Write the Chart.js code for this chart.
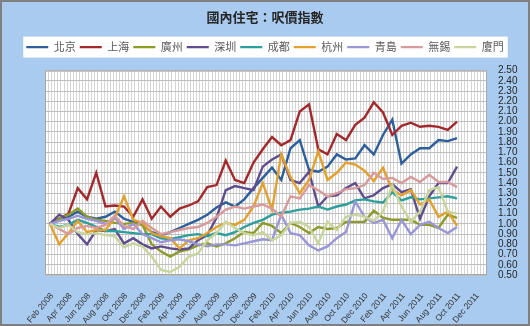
<!DOCTYPE html>
<html><head><meta charset="utf-8">
<script src="https://cdn.jsdelivr.net/npm/chart.js@4/dist/chart.umd.min.js"></script>
<style>html,body{margin:0;padding:0;background:#fff}</style>
</head><body>
<canvas id="c" width="530" height="326"></canvas>
<script>
const title = '國內住宅：呎價指數';
const months = ['Feb 2008','Mar 2008','Apr 2008','May 2008','Jun 2008','Jul 2008','Aug 2008','Sep 2008','Oct 2008','Nov 2008','Dec 2008',
 'Jan 2009','Feb 2009','Mar 2009','Apr 2009','May 2009','Jun 2009','Jul 2009','Aug 2009','Sep 2009','Oct 2009','Nov 2009','Dec 2009',
 'Jan 2010','Feb 2010','Mar 2010','Apr 2010','May 2010','Jun 2010','Jul 2010','Aug 2010','Sep 2010','Oct 2010','Nov 2010','Dec 2010',
 'Jan 2011','Feb 2011','Mar 2011','Apr 2011','May 2011','Jun 2011','Jul 2011','Aug 2011','Sep 2011','Oct 2011','Nov 2011','Dec 2011'];
const xTickIndex = [0,2,4,6,8,10,12,14,16,18,20,22,24,26,28,30,32,34,36,38,40,42,44,46];
const seriesNames = ['北京','上海','廣州','深圳','成都','杭州','青島','無錫','廈門'];

const beijing  = [1.00,1.05,1.07,1.12,1.07,1.05,1.07,1.12,1.05,1.02,0.99,0.92,0.89,0.92,0.96,1.00,1.04,1.09,1.16,1.21,1.17,1.24,1.35,1.45,1.55,1.43,1.74,1.82,1.53,1.51,1.56,1.68,1.63,1.64,1.77,1.68,1.87,2.02,1.59,1.68,1.74,1.74,1.82,1.81,1.84];
const shanghai = [1.00,1.05,1.10,1.35,1.24,1.50,1.17,1.18,1.17,1.07,1.24,1.05,1.17,1.07,1.15,1.18,1.22,1.36,1.38,1.62,1.43,1.40,1.60,1.73,1.85,1.77,1.82,2.10,2.17,1.73,1.68,1.88,1.82,1.97,2.04,2.19,2.09,1.87,1.96,1.99,1.95,1.96,1.95,1.92,2.00];
const guangzhou= [1.00,1.05,1.09,1.15,1.07,1.04,1.03,1.01,1.00,1.01,0.99,0.80,0.73,0.68,0.73,0.75,0.79,0.81,0.78,0.81,0.86,0.92,0.91,1.01,0.98,0.91,1.01,0.97,0.91,0.97,0.95,0.96,1.02,1.02,1.02,1.13,1.06,1.04,1.04,1.04,0.99,0.99,0.96,1.09,1.06];
const shenzhen = [1.00,1.09,1.04,0.90,0.80,0.94,0.93,0.95,0.81,0.86,0.80,0.76,0.78,0.76,0.75,0.76,0.84,0.89,1.06,1.33,1.37,1.35,1.33,1.56,1.63,1.68,1.43,1.40,1.51,1.17,1.27,1.28,1.35,1.40,1.25,1.28,1.35,1.39,1.31,1.34,1.05,1.27,1.40,1.40,1.56];
const chengdu  = [1.00,0.97,0.99,1.04,1.01,0.97,0.93,0.93,0.92,0.91,0.90,0.90,0.86,0.85,0.87,0.89,0.90,0.88,0.91,0.89,0.92,0.97,1.01,1.04,1.09,1.11,1.12,1.14,1.15,1.17,1.14,1.17,1.19,1.23,1.24,1.22,1.21,1.31,1.23,1.26,1.24,1.25,1.26,1.27,1.25];
const hangzhou = [1.00,0.80,0.91,1.03,0.92,0.94,0.94,1.06,1.27,1.04,1.01,0.91,0.88,0.86,0.76,0.84,0.86,0.91,0.97,1.01,0.99,1.04,1.17,1.40,1.14,1.68,1.46,1.30,1.43,1.71,1.43,1.50,1.60,1.58,1.52,1.42,1.55,1.33,1.28,1.33,1.19,1.24,1.07,1.12,0.98];
const qingdao  = [1.00,1.03,1.05,1.08,1.05,1.03,1.00,1.06,0.95,1.00,0.90,0.86,0.82,0.84,0.85,0.83,0.80,0.78,0.80,0.80,0.79,0.81,0.83,0.85,0.84,1.09,0.91,0.89,0.79,0.74,0.78,0.86,0.92,1.22,1.07,1.01,1.04,0.86,1.04,0.90,0.99,1.02,0.96,0.91,0.97];
const wuxi     = [1.00,0.95,0.90,0.96,0.98,0.96,0.99,1.08,0.98,0.95,1.03,0.96,0.90,0.92,0.94,0.96,0.97,1.01,1.07,1.14,1.17,1.15,1.17,1.19,1.15,1.07,1.27,1.25,1.38,1.33,1.27,1.30,1.34,1.35,1.38,1.50,1.44,1.45,1.40,1.46,1.41,1.48,1.41,1.41,1.36];
const xiamen   = [1.00,0.96,0.99,0.92,0.90,0.91,0.89,0.88,0.77,0.81,0.78,0.68,0.55,0.53,0.58,0.68,0.71,0.84,0.91,1.02,0.96,0.91,0.89,0.92,0.84,0.89,1.01,1.02,0.97,0.81,1.02,0.94,1.07,1.09,1.07,1.03,1.12,1.38,1.17,1.02,1.12,1.33,1.36,1.12,1.10];

const seriesValues = [beijing, shanghai, guangzhou, shenzhen, chengdu, hangzhou, qingdao, wuxi, xiamen];
const seriesColors = ['#2E5F9B','#A3282B','#8D9A2A','#5E4C8E','#2C9E9B','#E2A02F','#9896D6','#D89A9B','#C8D59D'];

const X_MIN = -0.54, X_MAX = 47.24;
const MINOR_STEP = 1 / 3;

const datasets = seriesNames.map((name, i) => ({
  label: name,
  data: seriesValues[i].map((v, j) => ({x: j, y: v})),
  borderColor: seriesColors[i],
  backgroundColor: seriesColors[i],
  borderWidth: 2.4,
  pointRadius: 0,
  pointHoverRadius: 0,
  tension: 0,
  fill: false,
  order: seriesNames.length - 1 - i
}));

const deco = {
  id: 'deco',
  beforeDraw(chart) {
    const {ctx, chartArea: a} = chart;
    ctx.save();
    ctx.fillStyle = '#A8CBEF';
    ctx.fillRect(0, 0, chart.width, chart.height);
    ctx.fillStyle = '#FFFFFF';
    ctx.fillRect(a.left, a.top, a.right - a.left, a.bottom - a.top);
    const xs = chart.scales.x;
    ctx.strokeStyle = '#D4D4D4';
    ctx.lineWidth = 1;
    ctx.beginPath();
    for (let v = X_MIN + MINOR_STEP; v < X_MAX; v += MINOR_STEP) {
      const px = Math.round(xs.getPixelForValue(v)) + 0.5;
      ctx.moveTo(px, a.top); ctx.lineTo(px, a.bottom);
    }
    ctx.stroke();
    const hb = chart.legend && chart.legend.legendHitBoxes;
    if (hb && hb.length) {
      let l = Infinity, r = -Infinity, t = Infinity, b = -Infinity;
      hb.forEach(h => { l = Math.min(l, h.left); r = Math.max(r, h.left + h.width); t = Math.min(t, h.top); b = Math.max(b, h.top + h.height); });
      ctx.fillStyle = '#FFFFFF';
      ctx.fillRect(l - 3, t - 5, r - l + 7, b - t + 10);
    }
    ctx.restore();
  },
  afterDraw(chart) {
    const {ctx, chartArea: a} = chart;
    ctx.save();
    ctx.strokeStyle = '#A6A6A6';
    ctx.lineWidth = 1;
    ctx.strokeRect(a.left + 0.5, a.top + 0.5, a.right - a.left - 1, a.bottom - a.top - 1);
    ctx.strokeStyle = '#7F7F7F';
    ctx.lineWidth = 2;
    ctx.strokeRect(1, 1, chart.width - 2, chart.height - 2);
    ctx.restore();
  }
};

new Chart(document.getElementById('c'), {
  type: 'line',
  data: { datasets },
  options: {
    responsive: false,
    animation: false,
    events: [],
    layout: { padding: 0 },
    plugins: {
      title: { display: true, text: title, color: '#262626',
        font: { family: "'Noto Sans CJK TC', sans-serif", size: 13, weight: 'bold' },
        padding: { top: 9, bottom: 13 } },
      legend: { position: 'top',
        labels: { usePointStyle: true, pointStyle: 'line', pointStyleWidth: 22, padding: 4, color: '#595959',
          font: { family: "'Noto Sans CJK TC', sans-serif", size: 11 },
          sort: (a, b) => a.datasetIndex - b.datasetIndex } },
      tooltip: { enabled: false }
    },
    scales: {
      x: { type: 'linear', position: 'bottom', min: X_MIN, max: X_MAX,
        afterBuildTicks: s => { s.ticks = xTickIndex.map(v => ({ value: v })); },
        ticks: { autoSkip: false, minRotation: 50, maxRotation: 50, padding: 8, labelOffset: 2, color: '#333333',
          font: { family: "'Liberation Sans', Arial, sans-serif", size: 8.5 },
          callback: v => months[v] },
        grid: { display: false }, border: { display: false },
        afterFit: s => { s.height = 51; } },
      xtop: { type: 'linear', position: 'top', min: X_MIN, max: X_MAX,
        ticks: { display: false }, grid: { display: false }, border: { display: false },
        afterFit: s => { s.height = 8; } },
      yleft: { type: 'linear', position: 'left', min: 0.5, max: 2.5,
        ticks: { display: false }, grid: { display: false }, border: { display: false },
        afterFit: s => { s.width = 45; } },
      y: { position: 'right', min: 0.5, max: 2.5,
        ticks: { stepSize: 0.1, autoSkip: false, padding: 11, color: '#262626',
          font: { family: "'Liberation Sans', Arial, sans-serif", size: 10 },
          callback: v => v.toFixed(2) },
        grid: { color: '#BFBFBF', drawTicks: false }, border: { display: false },
        afterFit: s => { s.width = 43; } }
    }
  },
  plugins: [deco]
});
</script>
</body></html>
